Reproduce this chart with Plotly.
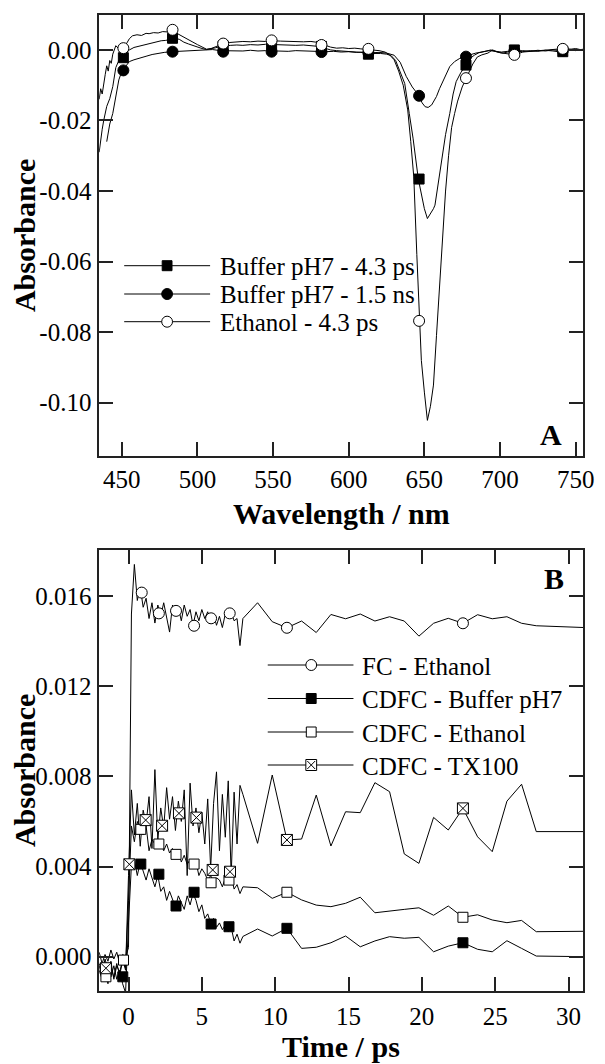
import plotly.graph_objects as go

# ---------------- Panel A : transient spectra ----------------
wl_buf_ps = [435,436,437,438,440,442,444,446,448,450,452,455,458,461,464,467,470,473,476,479,
             482,485,488,491,494,497,500,503,506,509,512,515,518,522,526,530,535,540,545,550,
             555,560,565,570,575,580,584,588,592,596,600,604,608,613,617,621,625,628,631,634,
             637,640,642.5,646,648,650,652,654,656,657,659,661.4,664,666.8,669,671,674,677.5,680,683,
             686,690,694,698,702,706,710,715,720,725,730,735,740,745,750,755]
abs_buf_ps = [-0.0290,-0.0250,-0.0225,-0.0200,-0.0160,-0.0138,-0.0104,-0.0050,-0.0030,-0.0020,
              -0.0012,0.0000,0.0007,0.0010,0.0015,0.0018,0.0021,0.0023,0.0026,0.0027,
              0.0031,0.0033,0.0030,0.0022,0.0017,0.0012,0.0008,0.0004,0.0001,0.0003,
              0.0006,0.0010,0.0012,0.0013,0.0014,0.0013,0.0015,0.0014,0.0016,0.0015,
              0.0014,0.0015,0.0013,0.0014,0.0012,0.0010,0.0005,0.0000,-0.0002,-0.0003,
              -0.0004,-0.0006,-0.0007,-0.0010,-0.0009,-0.0010,-0.0012,-0.0016,-0.0030,-0.0060,
              -0.0095,-0.0180,-0.0250,-0.0366,-0.0410,-0.0450,-0.0478,-0.0465,-0.0450,-0.0440,
              -0.0380,-0.0321,-0.0240,-0.0180,-0.0125,-0.0090,-0.0065,-0.0043,-0.0025,-0.0015,
              -0.0008,-0.0004,0.0000,-0.0006,-0.0009,-0.0005,-0.0003,-0.0005,-0.0002,-0.0004,
              -0.0001,-0.0003,-0.0006,0.0002,-0.0002,0.0001]

wl_buf_ns = [440,441,442,444,446,448,450,452,455,458,462,466,470,474,478,483,488,492,496,500,
             505,510,515,520,525,530,535,540,545,550,555,560,565,570,575,580,585,590,595,600,
             605,610,615,620,625,630,634,638,642,646.5,648.5,650.5,652.5,654.8,656.5,658,660,662.5,664.5,666.8,
             670,673.4,677.3,680,684,688,693,697,701,705,710,715,720,725,730,735,740,745,750,755]
abs_buf_ns = [-0.0260,-0.0235,-0.0210,-0.0180,-0.0132,-0.0085,-0.0060,-0.0050,-0.0033,-0.0028,
              -0.0024,-0.0018,-0.0013,-0.0009,-0.0007,-0.0005,-0.0004,-0.0003,-0.0002,-0.0001,
              0.0000,0.0001,-0.0002,-0.0003,-0.0002,-0.0003,-0.0001,-0.0003,-0.0002,-0.0003,
              -0.0002,-0.0004,-0.0002,-0.0003,-0.0002,-0.0004,-0.0005,-0.0004,-0.0006,-0.0005,
              -0.0007,-0.0006,-0.0008,-0.0007,-0.0009,-0.0015,-0.0035,-0.0075,-0.0105,-0.0130,
              -0.0150,-0.0161,-0.0163,-0.0156,-0.0145,-0.0132,-0.0110,-0.0085,-0.0065,-0.0047,
              -0.0033,-0.0024,-0.0019,-0.0014,-0.0009,-0.0005,-0.0002,-0.0004,-0.0006,-0.0004,
              -0.0003,-0.0002,-0.0004,-0.0001,-0.0003,0.0000,-0.0002,0.0003,-0.0001,0.0002]

wl_eth = [435,436,437,438,439,440,441,442,443,444,446,448,450,452,455,457,460,463,466,468,
          471,474,477,480,483,485,488,491,494,497,500,503,506,509,512,515,518,521,525,530,
          535,540,545,550,555,560,565,570,575,580,584,588,592,596,600,604,608,612,616,620,
          624,627,630,633,636,639,641,643,645,646.6,648,650,652,654,656,658,660,662,664,666,
          668,670,672,675,677.7,680,682,685,688,692,695,700,705,710,715,720,725,730,735,740,
          745,750,755]
abs_eth = [-0.0140,-0.0110,-0.0125,-0.0092,-0.0070,-0.0045,-0.0060,-0.0030,-0.0038,-0.0012,
           0.0012,0.0003,0.0006,0.0010,0.0032,0.0040,0.0043,0.0041,0.0047,0.0046,
           0.0049,0.0048,0.0052,0.0051,0.0055,0.0050,0.0043,0.0037,0.0029,0.0022,
           0.0015,0.0008,0.0002,0.0004,0.0009,0.0013,0.0019,0.0021,0.0022,0.0024,
           0.0023,0.0025,0.0024,0.0026,0.0025,0.0024,0.0025,0.0023,0.0024,0.0021,
           0.0014,0.0008,0.0005,0.0006,0.0004,0.0005,0.0003,0.0002,0.0000,-0.0002,
           -0.0006,-0.0014,-0.0028,-0.0060,-0.0100,-0.0170,-0.0260,-0.0360,-0.0580,-0.0768,
           -0.0880,-0.0970,-0.1050,-0.1010,-0.0950,-0.0810,-0.0670,-0.0530,-0.0400,-0.0300,
           -0.0220,-0.0180,-0.0145,-0.0105,-0.0080,-0.0058,-0.0040,-0.0020,-0.0014,-0.0009,
           0.0000,-0.0008,-0.0012,-0.0014,-0.0006,-0.0004,-0.0002,-0.0001,0.0002,0.0003,
           0.0001,0.0004,-0.0001]

mk_wl = [451, 483.5, 517, 549, 582, 613, 646.5, 677.5, 709.5, 741.5]
mk_buf_ps = [-0.0022, 0.0033, 0.0011, 0.0015, 0.0010, -0.0012, -0.0366, -0.0043, 0.0000, -0.0005]
mk_buf_ns = [-0.0058, -0.0005, -0.0005, -0.0005, -0.0006, -0.0008, -0.0130, -0.0019, -0.0003, -0.0002]
mk_eth = [0.0005, 0.0057, 0.0018, 0.0027, 0.0014, 0.0003, -0.0768, -0.0080, -0.0014, 0.0003]

# ---------------- Panel B : kinetics ----------------
time_ps = [-2.0,-1.8,-1.6,-1.4,-1.2,-1.0,-0.8,-0.6,-0.4,-0.2,
           0.0,0.2,0.4,0.6,0.8,1.0,1.2,1.4,1.6,1.8,
           2.0,2.2,2.4,2.6,2.8,3.0,3.2,3.4,3.6,3.8,
           4.0,4.2,4.4,4.6,4.8,5.0,5.2,5.4,5.6,5.8,
           6.0,6.2,6.4,6.6,6.8,7.0,7.2,7.4,7.6,7.8,
           8.8,9.8,10.8,11.8,12.8,13.8,14.8,15.8,16.8,17.8,
           18.8,19.8,20.8,21.8,22.8,23.8,24.8,25.8,26.8,27.8,
           31.5]
fc_ethanol = [0.0002,-0.0003,0.0001,-0.0002,0.0003,-0.0001,0.0002,-0.0003,0.0001,0.0000,
              0.0004,0.0152,0.0174,0.0158,0.0164,0.0155,0.0159,0.0150,0.0157,0.0148,
              0.0156,0.0151,0.0157,0.0150,0.0144,0.0156,0.0152,0.0155,0.0149,0.0156,
              0.0151,0.0154,0.0147,0.0153,0.0149,0.0154,0.0150,0.0153,0.0148,0.0152,
              0.0147,0.0151,0.0146,0.0152,0.0150,0.0153,0.0149,0.0150,0.0138,0.0150,
              0.0157,0.01486,0.01459,0.01489,0.01438,0.01518,0.01499,0.0152,0.01489,0.01508,
              0.01489,0.01422,0.01479,0.01501,0.01479,0.01517,0.01499,0.01508,0.01479,0.01468,
              0.01459]
cdfc_buffer = [-0.0003,-0.0007,-0.0001,-0.0006,-0.0009,-0.0004,-0.0010,-0.0006,-0.0012,-0.0016,
               0.0015,0.0041,0.0043,0.0036,0.0042,0.0038,0.0034,0.0039,0.0035,0.0031,
               0.0036,0.0029,0.0031,0.0025,0.0029,0.0025,0.0022,0.0027,0.0024,0.0021,
               0.0027,0.0023,0.0028,0.0025,0.0020,0.0023,0.0017,0.0019,0.0015,0.0017,
               0.0013,0.0015,0.0012,0.0014,0.0011,0.0013,0.0007,0.0010,0.0006,0.0009,
               0.00123,0.00092,0.00126,0.00037,0.00042,0.00062,0.00092,0.00044,0.0007,0.00089,
               0.00082,0.00086,0.00022,0.00047,0.00062,0.00033,0.00022,0.00071,0.00037,0.00003,
               0.0]
cdfc_ethanol = [-0.0006,-0.0010,-0.0007,-0.0012,-0.0005,-0.0009,-0.0003,-0.0008,-0.0002,-0.0005,
                0.0025,0.0058,0.0051,0.0060,0.0056,0.0054,0.0058,0.0047,0.0052,0.0050,
                0.0049,0.0051,0.0047,0.0050,0.0046,0.0048,0.0045,0.0047,0.0042,0.0045,
                0.0041,0.0043,0.0040,0.0042,0.0036,0.0039,0.0037,0.0034,0.0036,0.0033,
                0.0035,0.0034,0.0031,0.0035,0.0033,0.0036,0.0030,0.0032,0.0028,0.0031,
                0.00306,0.00259,0.00286,0.00252,0.00229,0.00222,0.00237,0.00264,0.00195,0.00204,
                0.00210,0.00217,0.00184,0.00225,0.00175,0.00186,0.00163,0.00151,0.00161,0.00111,
                0.00113]
cdfc_tx100 = [-0.0004,-0.0009,-0.0003,-0.0008,-0.0002,-0.0010,-0.0004,-0.0007,-0.0001,-0.0006,
              0.0036,0.0074,0.0054,0.0068,0.0049,0.0065,0.0059,0.0071,0.0048,0.0083,
              0.0052,0.0066,0.0057,0.0075,0.0061,0.0071,0.0056,0.0069,0.0060,0.0074,
              0.0036,0.0077,0.0058,0.0066,0.0055,0.0064,0.0050,0.0070,0.0039,0.0068,
              0.0082,0.0047,0.0072,0.0053,0.0078,0.0036,0.0073,0.0050,0.0076,0.0072,
              0.00503,0.00806,0.00518,0.00522,0.00717,0.00491,0.00643,0.00639,0.00772,0.00732,
              0.00456,0.00414,0.00618,0.00562,0.00658,0.00532,0.00466,0.0069,0.00765,0.00555,
              0.00555]

mk_t_fc = [0.9, 2.07, 3.24, 4.47, 5.63, 6.9, 10.8, 22.8]
mk_fc = [0.01615, 0.01523, 0.01534, 0.01468, 0.01501, 0.01523, 0.01459, 0.01479]
mk_t_buf = [-0.39, 0.84, 2.07, 3.24, 4.47, 5.63, 6.85, 10.8, 22.8]
mk_buf = [-0.00089, 0.00411, 0.00366, 0.00225, 0.00286, 0.00145, 0.00133, 0.00126, 0.00062]
mk_t_eth = [-1.54, -0.34, 0.84, 2.07, 3.24, 4.47, 5.63, 6.85, 10.8, 22.8]
mk_eth_b = [-0.00089, -0.00015, 0.00565, 0.00500, 0.00454, 0.00411, 0.00328, 0.00340, 0.00286, 0.00175]
mk_t_tx = [-1.54, 0.06, 1.17, 2.29, 3.44, 4.63, 5.74, 6.92, 10.8, 22.8]
mk_tx = [-0.00051, 0.00410, 0.00606, 0.00581, 0.00636, 0.00617, 0.00385, 0.00377, 0.00518, 0.00658]

xticks_a = [450, 500, 550, 600, 650, 700, 750]
yticks_a = [-0.10, -0.08, -0.06, -0.04, -0.02, 0.00]
yticktext_a = ["-0.10", "-0.08", "-0.06", "-0.04", "-0.02", "0.00"]
xticks_b = [0, 5, 10, 15, 20, 25, 30]
yticks_b = [0.000, 0.004, 0.008, 0.012, 0.016]
yticktext_b = ["0.000", "0.004", "0.008", "0.012", "0.016"]

names_a = ["Buffer pH7 - 4.3 ps", "Buffer pH7 - 1.5 ns", "Ethanol - 4.3 ps"]
names_b = ["FC - Ethanol", "CDFC - Buffer pH7", "CDFC - Ethanol", "CDFC - TX100"]

# ---------------- figure ----------------
FONT = "Liberation Serif"
W, H = 605, 1064
LINE = dict(color="black", width=1)

def X(px):
    return px / W

def Y(py):
    return 1 - py / H

series = [
    (wl_buf_ps, abs_buf_ps, mk_wl, mk_buf_ps, "square", "black", 10, names_a[0], ("x", "y")),
    (wl_buf_ns, abs_buf_ns, mk_wl, mk_buf_ns, "circle", "black", 11, names_a[1], ("x", "y")),
    (wl_eth, abs_eth, mk_wl, mk_eth, "circle", "white", 11, names_a[2], ("x", "y")),
    (time_ps, fc_ethanol, mk_t_fc, mk_fc, "circle", "white", 11, names_b[0], ("x2", "y2")),
    (time_ps, cdfc_buffer, mk_t_buf, mk_buf, "square", "black", 10, names_b[1], ("x2", "y2")),
    (time_ps, cdfc_ethanol, mk_t_eth, mk_eth_b, "square", "white", 10, names_b[2], ("x2", "y2")),
    (time_ps, cdfc_tx100, mk_t_tx, mk_tx, "square-x", "white", 11, names_b[3], ("x2", "y2")),
]

fig = go.Figure()
for x, y, mx, my, sym, fill, size, name, (xa, ya) in series:
    fig.add_trace(go.Scatter(x=x, y=y, mode="lines", line=LINE, xaxis=xa, yaxis=ya,
                             name=name, showlegend=False, hoverinfo="skip"))
for x, y, mx, my, sym, fill, size, name, (xa, ya) in series:
    fig.add_trace(go.Scatter(x=mx, y=my, mode="markers", xaxis=xa, yaxis=ya, showlegend=False,
                             name=name,
                             marker=dict(symbol=sym, size=size, color=fill,
                                         line=dict(color="black", width=1))))

dom_x = [X(101), X(594)]
dom_a = [Y(456), Y(15)]
dom_b = [Y(991), Y(550)]

axis_common = dict(showline=True, linecolor="#222", linewidth=1.5, mirror="ticks",
                   ticks="inside", ticklen=14, tickwidth=1.5, tickcolor="#222",
                   showgrid=False, zeroline=False, ticklabeloverflow="allow",
                   tickfont=dict(family=FONT, size=25, color="black"))

fig.update_layout(
    width=W, height=H, margin=dict(l=0, r=0, t=0, b=0),
    paper_bgcolor="white", plot_bgcolor="white", showlegend=False,
    xaxis=dict(domain=dom_x, range=[435, 755], tickvals=xticks_a, anchor="y",
               ticklabelstandoff=0, **axis_common),
    yaxis=dict(domain=dom_a, range=[-0.1151, 0.0099], tickvals=yticks_a, ticktext=yticktext_a,
               anchor="x", ticklabelstandoff=1, **axis_common),
    xaxis2=dict(domain=dom_x, range=[-2, 31], tickvals=xticks_b, anchor="y2",
                ticklabelstandoff=2, **axis_common),
    yaxis2=dict(domain=dom_b, range=[-0.00152, 0.01804], tickvals=yticks_b, ticktext=yticktext_b,
                anchor="x2", ticklabelstandoff=1, **axis_common),
)

# ---- legends drawn as line + symbol + text ----
def legend_block(items, x0, x1, xm, xt, rows):
    for (sym, fill, size, name), yr in zip(items, rows):
        fig.add_shape(type="line", xref="paper", yref="paper", x0=X(x0), x1=X(x1), y0=Y(yr), y1=Y(yr),
                      line=dict(color="black", width=1))
        r = size / 2
        shp = "circle" if sym == "circle" else "rect"
        fig.add_shape(type=shp, xref="paper", yref="paper", x0=X(xm - r), x1=X(xm + r),
                      y0=Y(yr + r), y1=Y(yr - r), fillcolor=fill, line=dict(color="black", width=1))
        if sym == "square-x":
            for a, b in [(-1, -1), (-1, 1)]:
                fig.add_shape(type="line", xref="paper", yref="paper",
                              x0=X(xm + a * (r - 1.5)), x1=X(xm - a * (r - 1.5)),
                              y0=Y(yr + b * (r - 1.5)), y1=Y(yr - b * (r - 1.5)),
                              line=dict(color="black", width=1))
        fig.add_annotation(text=name, xref="paper", yref="paper", x=X(xt), y=Y(yr + 1),
                           xanchor="left", yanchor="middle", showarrow=False,
                           font=dict(family=FONT, size=25, color="black"))

legend_block([(s[4], s[5], s[6], s[7]) for s in series[:3]], 126.5, 214, 170.2, 222,
             [265.7, 294, 321.7])
legend_block([(s[4], s[5], s[6], s[7]) for s in series[3:]], 272.7, 360, 317, 367,
             [665, 698.5, 732, 765])

title_font = dict(family=FONT, size=30, color="black")
annots = [
    dict(text="<b>Absorbance</b>", x=X(25), y=Y(235.5), textangle=-90),
    dict(text="<b>Wavelength / nm</b>", x=X(347.5), y=Y(514), textangle=0),
    dict(text="<b>Absorbance</b>", x=X(25), y=Y(770.5), textangle=-90),
    dict(text="<b>Time / ps</b>", x=X(347.5), y=Y(1046), textangle=0),
    dict(text="<b>A</b>", x=X(561), y=Y(434), textangle=0),
    dict(text="<b>B</b>", x=X(564), y=Y(578), textangle=0),
]
for a in annots:
    fig.add_annotation(xref="paper", yref="paper", xanchor="center", yanchor="middle",
                       showarrow=False, font=title_font, **a)

fig.write_html("out.html", config={"displayModeBar": False},
               post_script="document.body.style.margin='0';")
